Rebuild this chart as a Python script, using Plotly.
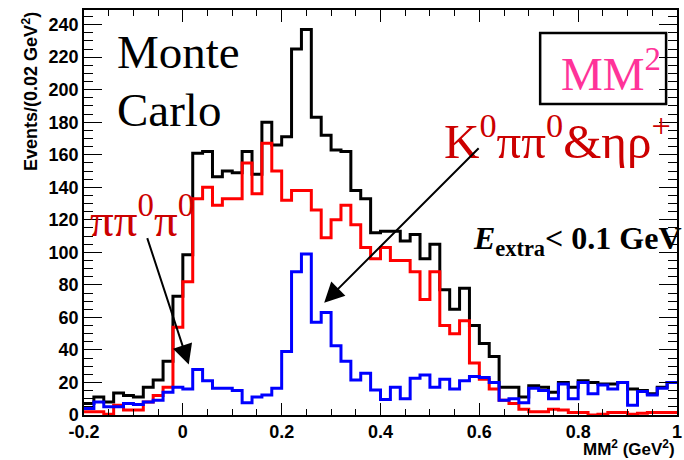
import plotly.graph_objects as go

# ---- data (Events per 0.02 GeV^2 bin, MM^2 from -0.2 to 1.0) ----
bin_lo = -0.2
bin_w = 0.02
n_bins = 60

total = [7, 11, 8, 13.5, 12, 11, 17, 21.5, 33, 73,
         98.5, 161, 162, 146.5, 150, 149, 162, 148, 180, 166,
         171, 225, 237, 183, 172, 163, 162, 138, 133, 112,
         113, 113, 107, 111, 96, 105, 77, 65, 78, 55,
         44, 36, 17, 17, 11, 18, 17, 14, 20, 17,
         21, 20, 19, 19, 20, 16, 15, 13, 17, 20]

red_bkg = [2, 2, 0.5, 6, 3, 3, 8, 12, 17, 54,
           82, 133, 140, 129, 133, 133, 155, 136, 167, 150,
           132, 138, 138, 126, 109, 120, 129, 117, 103, 96,
           103, 95, 95, 88, 71, 88, 55, 50, 58, 32,
           22, 16, 9, 7, 3.5, 2, 2, 3.5, 3, 1.5,
           1.5, 0, 0.5, 1.5, 1.5, 0.5, 1, 1.5, 1.5, 1.5]

blue_bkg = [4, 8, 5, 5, 7, 6.5, 8, 9, 14, 17,
            16, 28, 21, 16.5, 16.5, 15, 7.5, 11, 12.3, 16.4,
            39, 88, 99, 57, 63, 42.5, 33, 21.5, 25.6, 15.4,
            9.6, 17, 10, 22.6, 24.6, 17, 22, 16, 21, 23.6,
            23, 20, 9, 10, 7.6, 16.4, 15, 10, 19, 10,
            20, 13, 18.5, 16, 20, 6, 14.4, 12.3, 16.4, 20]

x_tickvals = [-0.2, 0, 0.2, 0.4, 0.6, 0.8, 1.0]
x_ticktext = ["-0.2", "0", "0.2", "0.4", "0.6", "0.8", "1"]
y_tickvals = list(range(0, 241, 20))

edges = [round(bin_lo + i * bin_w, 4) for i in range(n_bins + 1)]


def step(vals):
    return edges, list(vals) + [vals[-1]]


fig = go.Figure()
for vals, col in [(total, "#000000"), (red_bkg, "#ff0000"), (blue_bkg, "#0000ff")]:
    xs, ys = step(vals)
    fig.add_trace(go.Scatter(x=xs, y=ys, mode="lines", line=dict(shape="hv", color=col, width=3),
                             showlegend=False, hoverinfo="skip"))

L, R, T, B = 84, 2, 10, 45
W, H = 684, 460
pw, ph = W - L - R, H - T - B


def px(x):
    return (x - L) / pw


def py(y):
    return (H - B - y) / ph


tickfont = dict(family="Liberation Sans", size=18, color="black", weight="bold")

fig.update_layout(
    width=W, height=H, margin=dict(l=L, r=R, t=T, b=B),
    paper_bgcolor="white", plot_bgcolor="white",
    xaxis=dict(range=[-0.2, 1.0], tickvals=x_tickvals, ticktext=x_ticktext,
               ticks="inside", ticklen=12, tickwidth=1.2, tickcolor="black",
               minor=dict(dtick=0.05, tick0=0, ticks="inside", ticklen=6, tickwidth=1.2, tickcolor="black"),
               showline=True, linecolor="black", linewidth=1.5, mirror="allticks",
               showgrid=False, zeroline=False, tickfont=tickfont, ticklabeloverflow="allow"),
    yaxis=dict(range=[0, 249], tickvals=y_tickvals,
               ticks="inside", ticklen=18, tickwidth=1.2, tickcolor="black",
               minor=dict(dtick=5, tick0=0, ticks="inside", ticklen=9, tickwidth=1.2, tickcolor="black"),
               showline=True, linecolor="black", linewidth=1.5, mirror="allticks",
               showgrid=False, zeroline=False, tickfont=tickfont, ticklabeloverflow="allow"),
)

serif = "Liberation Serif"
ann = []
ann.append(dict(text="Monte", x=px(115), y=py(52), xref="paper", yref="paper", xanchor="left", yanchor="middle",
                showarrow=False, font=dict(family=serif, size=47, color="black")))
ann.append(dict(text="Carlo", x=px(115), y=py(110), xref="paper", yref="paper", xanchor="left", yanchor="middle",
                showarrow=False, font=dict(family=serif, size=47, color="black")))
ann.append(dict(text="MM<sup>2</sup>", x=px(563), y=py(70), xref="paper", yref="paper", xanchor="left", yanchor="middle",
                showarrow=False, font=dict(family=serif, size=47, color="#ff3399")))
ann.append(dict(text="K<sup>0</sup>ππ<sup>0</sup>&ηρ<sup>+</sup>", x=px(445), y=py(137), xref="paper", yref="paper",
                xanchor="left", yanchor="middle", showarrow=False, font=dict(family=serif, size=49, color="#cc0000")))
ann.append(dict(text="ππ<sup>0</sup>π<sup>0</sup>", x=px(88), y=py(217), xref="paper", yref="paper",
                xanchor="left", yanchor="middle", showarrow=False, font=dict(family=serif, size=47, color="#cc0000")))
ann.append(dict(text="<i>E</i><sub>extra</sub>< 0.1 GeV", x=px(474), y=py(240), xref="paper", yref="paper",
                xanchor="left", yanchor="middle", showarrow=False,
                font=dict(family=serif, size=32, color="black", weight="bold")))
# axis titles
ann.append(dict(text="Events/(0.02 GeV<sup>2</sup>)", x=px(30), y=1.0, xref="paper", yref="paper",
                xanchor="center", yanchor="top", textangle=-90, showarrow=False,
                font=dict(family="Liberation Sans", size=18, color="black", weight="bold")))
ann.append(dict(text="MM<sup>2</sup> (GeV<sup>2</sup>)", x=1.0, y=py(448), xref="paper", yref="paper",
                xanchor="right", yanchor="middle", showarrow=False,
                font=dict(family="Liberation Sans", size=17, color="black", weight="bold")))
# arrows (head positions in data coords, tails as pixel offsets)
ann.append(dict(text="", x=0.012, y=31, xref="x", yref="y", ax=-42, ay=-128, showarrow=True,
                arrowhead=2, arrowsize=2, arrowwidth=2, arrowcolor="black"))
ann.append(dict(text="", x=0.286, y=69, xref="x", yref="y", ax=156, ay=-156, showarrow=True,
                arrowhead=2, arrowsize=2, arrowwidth=2, arrowcolor="black"))
fig.update_layout(annotations=ann)

fig.add_shape(type="rect", xref="paper", yref="paper", x0=px(544), x1=px(671), y0=py(104), y1=py(33),
              line=dict(color="black", width=2.5), fillcolor="rgba(0,0,0,0)")

fig.write_html("out.html")
